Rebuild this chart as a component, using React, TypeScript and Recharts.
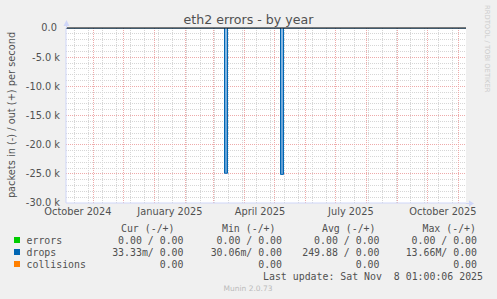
import { ComposedChart, Area, XAxis, YAxis, ReferenceLine } from "recharts";

// graph window: 400 days ending Nov 8 2025 01:00
const START = Date.UTC(2024, 9, 4, 1);
const DAY = 86400000;
const dayOf = (y: number, m: number, d: number) => (Date.UTC(y, m, d) - START) / DAY;

// drops (in, plotted negative), x = days since start of window
const dropDays = [0, 158.5, 158.5, 161.5, 161.5, 214.5, 214.5, 217.5, 217.5, 400];
const dropValues = [0, 0, -24900, -24900, 0, 0, -25100, -25100, 0, 0];

// month labels sit in the middle of each month
const labelDates: [number, number, number][] = [
  [2024, 9, 16],
  [2025, 0, 16],
  [2025, 3, 16],
  [2025, 6, 16],
  [2025, 9, 16],
];
const labelNames = ["October 2024", "January 2025", "April 2025", "July 2025", "October 2025"];

const yTicks = [0, -5000, -10000, -15000, -20000, -25000, -30000];

const legendNames = ["errors", "drops", "collisions"];
const legendColors = ["#00cc00", "#0066b3", "#ff8000"];
const curVals = ["0.00 / 0.00", "33.33m/ 0.00", "0.00"];
const minVals = ["0.00 / 0.00", "30.06m/ 0.00", "0.00"];
const avgVals = ["0.00 / 0.00", "249.88 / 0.00", "0.00"];
const maxVals = ["0.00 / 0.00", "13.66M/ 0.00", "0.00"];
const headers = ["Cur (-/+)", "Min (-/+)", "Avg (-/+)", "Max (-/+)"];

const data = dropDays.map((d, i) => ({ day: d, drops: dropValues[i] }));
const labelDays = labelDates.map(([y, m, d]) => dayOf(y, m, d));

const monthLines: number[] = [];
for (let i = 1; i <= 13; i++) monthLines.push(dayOf(2024, 9 + i, 1));
const weekLines: number[] = [];
for (let d = dayOf(2024, 9, 13); d < 400; d += 14) weekLines.push(d);
const minorY: number[] = [];
for (let v = -1000; v > -30000; v -= 1000) if (v % 5000 !== 0) minorY.push(v);

const fmtY = (v: number) => (v === 0 ? "0.0\u00a0" : `${(v / 1000).toFixed(1)} k`);
const fmtX = (v: number) => labelNames[labelDays.indexOf(v)] ?? "";

const SANS = "'DejaVu Sans', sans-serif";
const MONO = "'DejaVu Sans Mono', monospace";
const FONT = "#505050";
const AXIS = "#CFD6F8";
const GRID = "#d6d6d6";
const MGRID = "#eeaaaa";

const colRight = [183.5, 282, 379.5, 477];
const headRight = [174.5, 275.5, 375.5, 476];
const rowY = [240, 252, 264];

// grid sits under the series (zIndex is ignored by older recharts)
const gridProps = { strokeDasharray: "1 1", shapeRendering: "crispEdges", zIndex: 0 } as any;

export default function App() {
  return (
    <div style={{ position: "absolute", left: 0, top: 0, width: 497, height: 299, background: "#f0f0f0", overflow: "hidden" }}>
      <ComposedChart width={497} height={299} data={data} margin={{ top: 28, right: 31, bottom: 76, left: 6 }}>
        <defs>
          <linearGradient id="dropFill" x1="0" y1="0" x2="0" y2="1">
            <stop offset="0%" stopColor="#8dbbe3" />
            <stop offset="100%" stopColor="#5c9bd2" />
          </linearGradient>
        </defs>
        <rect x={66} y={28} width={400} height={175} fill="#ffffff" />
        {weekLines.map((d) => (
          <ReferenceLine key={`w${d}`} x={d} stroke={GRID} {...gridProps} />
        ))}
        {minorY.map((v) => (
          <ReferenceLine key={`h${v}`} y={v} stroke={GRID} {...gridProps} />
        ))}
        {monthLines.map((d) => (
          <ReferenceLine key={`m${d}`} x={d} stroke={MGRID} {...gridProps} />
        ))}
        {yTicks.slice(1, -1).map((v) => (
          <ReferenceLine key={`M${v}`} y={v} stroke={MGRID} {...gridProps} />
        ))}
        <XAxis
          dataKey="day"
          type="number"
          domain={[0, 400]}
          ticks={labelDays}
          interval={0}
          tickFormatter={fmtX}
          tickLine={false}
          tickSize={0}
          tickMargin={5.5}
          height={20}
          axisLine={{ stroke: AXIS }}
          tick={{ fill: FONT, fontSize: 9.8, fontFamily: SANS }}
          allowDataOverflow
        />
        <YAxis
          type="number"
          domain={[-30000, 0]}
          ticks={yTicks}
          interval={0}
          tickFormatter={fmtY}
          tickLine={false}
          tickSize={0}
          tickMargin={6}
          width={60}
          axisLine={{ stroke: AXIS }}
          tick={{ fill: FONT, fontSize: 9.8, fontFamily: SANS }}
          allowDataOverflow
        />
        <Area
          type="linear"
          dataKey="drops"
          stroke="#0066b3"
          strokeWidth={1}
          fill="url(#dropFill)"
          fillOpacity={1}
          dot={false}
          activeDot={false}
          isAnimationActive={false}
        />
        <ReferenceLine y={0} stroke="#000000" />
      </ComposedChart>
      <svg width={497} height={299} style={{ position: "absolute", left: 0, top: 0, pointerEvents: "none" }}>
        <line x1={66.5} y1={28} x2={66.5} y2={22} stroke={AXIS} />
        <polygon points="63.5,26 69.5,26 66.5,20" fill={AXIS} />
        <line x1={466} y1={203.5} x2={470} y2={203.5} stroke={AXIS} />
        <polygon points="469,200.5 469,206.5 474,203.5" fill={AXIS} />
        <text x={248.5} y={23.5} textAnchor="middle" fontFamily={SANS} fontSize={12.6} fill={FONT}>
          eth2 errors - by year
        </text>
        <text
          x={0}
          y={0}
          transform="translate(14.5,115) rotate(-90)"
          textAnchor="middle"
          fontFamily={SANS}
          fontSize={9.8}
          fill={FONT}
        >
          packets in (-) / out (+) per second
        </text>
        <text
          x={0}
          y={0}
          transform="translate(484.5,5) rotate(90)"
          textAnchor="start"
          fontFamily={SANS}
          fontSize={6.8}
          fill="#cccccc"
        >
          RRDTOOL / TOBI OETIKER
        </text>
        {headers.map((h, i) => (
          <text key={h} x={headRight[i]} y={231.5} textAnchor="end" fontFamily={MONO} fontSize={9.9} fill={FONT} xmlSpace="preserve">
            {h}
          </text>
        ))}
        {legendNames.map((n, r) => (
          <g key={n}>
            <rect x={14} y={rowY[r] - 3} width={6} height={6} fill={legendColors[r]} />
            <text x={26.5} y={rowY[r] + 3.5} fontFamily={MONO} fontSize={9.9} fill={FONT}>
              {n}
            </text>
            {[curVals, minVals, avgVals, maxVals].map((col, c) => (
              <text
                key={c}
                x={colRight[c]}
                y={rowY[r] + 3.5}
                textAnchor="end"
                fontFamily={MONO}
                fontSize={9.9}
                fill={FONT}
                xmlSpace="preserve"
              >
                {col[r]}
              </text>
            ))}
          </g>
        ))}
        <text x={483} y={279.5} textAnchor="end" fontFamily={MONO} fontSize={9.9} fill={FONT} xmlSpace="preserve">
          {"Last update: Sat Nov  8 01:00:06 2025"}
        </text>
        <text x={248} y={290.5} textAnchor="middle" fontFamily={SANS} fontSize={7.5} fill="#bbbbbb">
          Munin 2.0.73
        </text>
      </svg>
    </div>
  );
}
